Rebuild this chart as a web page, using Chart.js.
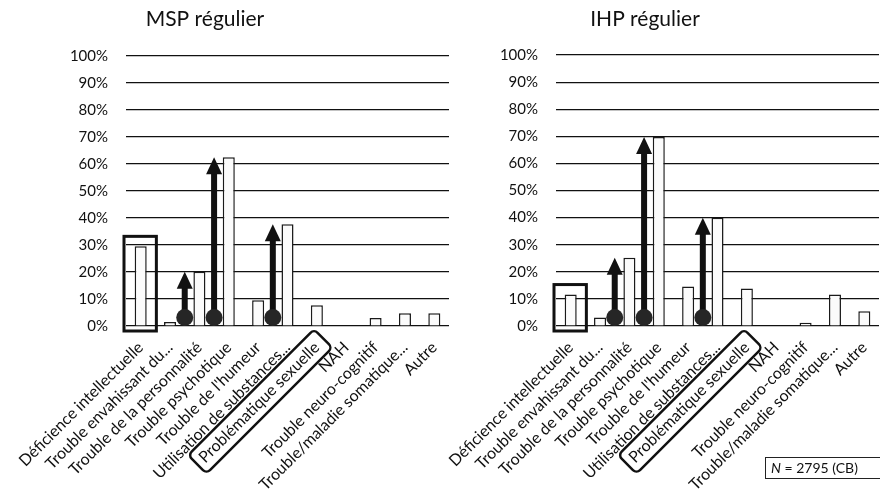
<!DOCTYPE html>
<html>
<head>
<meta charset="utf-8">
<script src="https://cdn.jsdelivr.net/npm/chart.js@4.4.0/dist/chart.umd.min.js"></script>
<style>
body{margin:0;background:#fff;width:880px;height:498px;overflow:hidden;position:relative;font-family:Lato,sans-serif}
#c1{position:absolute;left:0;top:0}
#c2{position:absolute;left:440px;top:0}
#nbox{position:absolute;left:765px;top:457px;width:130px;height:20px;border:1.5px solid #222;font:14px Lato,sans-serif;color:#111;line-height:20px;padding-left:5px;box-sizing:content-box}
</style>
</head>
<body>
<canvas id="c1" width="452" height="498"></canvas>
<canvas id="c2" width="440" height="498"></canvas>
<div id="nbox"><i>N</i> = 2795 (CB)</div>
<script>
// data
const categories = ["Déficience intellectuelle", "Trouble envahissant du...", "Trouble de la personnalité",
  "Trouble psychotique", "Trouble de l'humeur", "Utilisation de substances...", "Problématique sexuelle",
  "NAH", "Trouble neuro-cognitif", "Trouble/maladie somatique...", "Autre"];
const mspValues = [29.5, 1.5, 20.1, 62.5, 9.5, 37.7, 7.7, 0, 3.0, 4.7, 4.7];
const ihpValues = [11.6, 3.1, 25.2, 69.7, 14.6, 39.9, 13.8, 0, 1.2, 11.6, 5.4];
const yTicks = [0, 10, 20, 30, 40, 50, 60, 70, 80, 90, 100];
const arrowBars = [2, 3, 5];   // bars pointed at by the arrows
const boxedBar = 0;            // bar framed by a rectangle
const boxedLabel = 6;          // label framed by a rounded box

const LABEL_FS = 16;

function roundRect(ctx, x, y, w, h, r){
    ctx.beginPath();
    ctx.moveTo(x + r, y);
    ctx.arcTo(x + w, y, x + w, y + h, r);
    ctx.arcTo(x + w, y + h, x, y + h, r);
    ctx.arcTo(x, y + h, x, y, r);
    ctx.arcTo(x, y, x + w, y, r);
    ctx.closePath();
}

const marks = {
    id: 'marks',
    afterDraw(chart, args, opts){
        const ctx = chart.ctx;
        const xs = chart.scales.x, ys = chart.scales.y;
        const vals = chart.data.datasets[0].data;
        const step = xs.width / categories.length;
        const base = ys.getPixelForValue(0);
        ctx.save();

        // title
        ctx.fillStyle = '#111';
        ctx.font = '21px Lato';
        ctx.textAlign = 'center';
        ctx.textBaseline = 'middle';
        ctx.fillText(opts.title, opts.titleX, 19);

        // arrows
        arrowBars.forEach((i)=>{
            const ax = xs.getPixelForValue(i) - step / 2;
            const tip = ys.getPixelForValue(vals[i]);
            ctx.fillStyle = '#111';
            ctx.fillRect(ax - 3, tip + 14, 6, base - 8 - (tip + 14));
            ctx.beginPath();
            ctx.moveTo(ax, tip);
            ctx.lineTo(ax - 8, tip + 17);
            ctx.lineTo(ax + 8, tip + 17);
            ctx.closePath();
            ctx.fill();
            ctx.beginPath();
            ctx.arc(ax, base - 8.5, 8.5, 0, Math.PI * 2);
            ctx.fillStyle = '#262626';
            ctx.fill();
        });

        // rectangle around the first bar
        const bx = xs.getPixelForValue(boxedBar);
        const btop = ys.getPixelForValue(vals[boxedBar]) - 10;
        ctx.strokeStyle = '#111';
        ctx.lineWidth = 3;
        ctx.strokeRect(bx - step / 2 - 2, btop, step + 3, base + 5 - btop);

        // rounded box around one x label
        const rot = -xs.labelRotation * Math.PI / 180;
        const lh = LABEL_FS * 1.2;
        const lx = xs.getPixelForTick(boxedLabel) + lh / 2 * Math.sin(rot);
        const ly = xs.top + xs.options.ticks.padding;
        ctx.font = LABEL_FS + 'px Lato';
        const w = ctx.measureText(categories[boxedLabel]).width;
        ctx.translate(lx, ly);
        ctx.rotate(rot);
        ctx.lineWidth = 2.5;
        roundRect(ctx, -w - 6, lh / 2 - 13, w + 15, 26, 5);
        ctx.stroke();
        ctx.restore();
    }
};

function makeChart(id, values, title, yWidth, padTop, padRight){
    return new Chart(document.getElementById(id), {
        type: 'bar',
        data: {
            labels: categories,
            datasets: [{
                data: values,
                backgroundColor: '#fbfbfb',
                borderColor: '#1a1a1a',
                borderWidth: 1.5,
                barPercentage: 0.41,
                categoryPercentage: 1
            }]
        },
        options: {
            responsive: false,
            animation: false,
            layout: { padding: { top: padTop, right: padRight, left: 0, bottom: 0 } },
            plugins: {
                legend: { display: false },
                tooltip: { enabled: false },
                marks: { title: title, titleX: 205 }
            },
            scales: {
                x: {
                    grid: { display: false, drawTicks: false },
                    border: { display: false },
                    ticks: {
                        autoSkip: false, minRotation: 45, maxRotation: 45, padding: 12,
                        color: '#111', font: { family: 'Lato', size: LABEL_FS }
                    },
                    afterFit: (s)=>{ s.height = 172; s.paddingLeft = 0; s.paddingRight = 0; }
                },
                y: {
                    min: 0, max: 100,
                    afterBuildTicks: (s)=>{ s.ticks = yTicks.map((v)=>({ value: v })); },
                    grid: { color: '#111', lineWidth: 1.2, drawTicks: false },
                    border: { display: false },
                    ticks: {
                        padding: 18, color: '#111', font: { family: 'Lato', size: 15 },
                        callback: (v)=>v + '%'
                    },
                    afterFit: (s)=>{ s.width = yWidth; }
                }
            }
        },
        plugins: [marks]
    });
}

makeChart('c1', mspValues, 'MSP régulier', 126, 56, 3);
makeChart('c2', ihpValues, 'IHP régulier', 116, 55, 1);
</script>
</body>
</html>
